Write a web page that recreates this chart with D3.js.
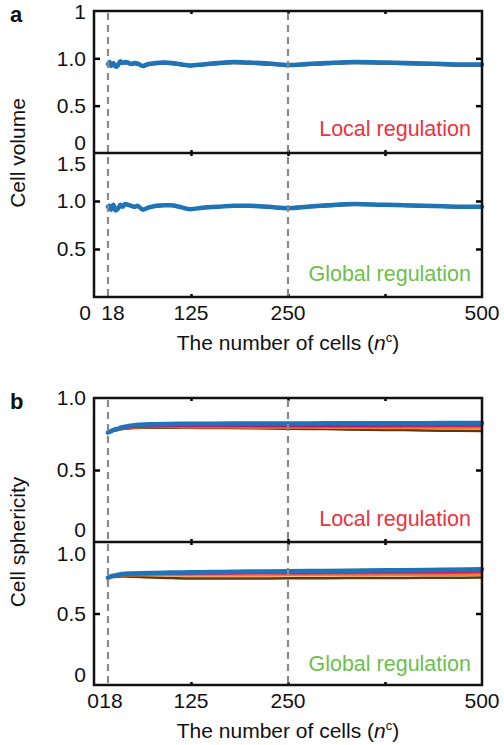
<!DOCTYPE html>
<html lang="en">
<head>
    <meta charset="UTF-8">
    <title>Cell volume and sphericity</title>
    <script src="https://d3js.org/d3.v7.min.js"></script>
    <style>
        body {
            margin: 0;
            padding: 0;
            background: #fff;
            font-family: "Liberation Sans", Arial, sans-serif;
        }
        .tick-label {
            font-size: 21px;
            fill: #111;
        }
        .axis-title {
            font-size: 21px;
            fill: #111;
        }
        .panel-letter {
            font-size: 22px;
            font-weight: bold;
            fill: #111;
        }
        .region-label {
            font-size: 21.5px;
        }
    </style>
</head>
<body>
    <svg width="504" height="745"></svg>
    <script>
        // series names, drawn bottom to top
        const seriesNames = ["brown", "orange", "red", "magenta", "blue"];
        const seriesColors = ["#5e3811", "#f2812c", "#e8325a", "#b5177f", "#1f73b7"];
        const seriesWidths = [2.5, 2.5, 2.5, 2.5, 4.5];

        const xTicks = [18, 125, 250, 375, 500];
        const xTickLabels = ["18", "125", "250", "", "500"];
        const markers = [18, 250];

        // panel a: cell volume
        const nA = [18, 20, 22, 25, 28, 31, 34, 37, 40, 44, 48, 52, 56, 63, 70, 80, 90, 100, 110, 124,
            140, 160, 180, 200, 225, 250, 275, 300, 336, 375, 400, 425, 450, 475, 500];

        const volLocalBrown = [0.94, 0.95, 0.92, 0.94, 0.92, 0.93, 0.96, 0.95, 0.95, 0.945, 0.935, 0.94, 0.935, 0.915, 0.93, 0.94, 0.945, 0.94, 0.93, 0.92,
            0.93, 0.94, 0.95, 0.945, 0.935, 0.925, 0.93, 0.94, 0.95, 0.945, 0.94, 0.935, 0.93, 0.925, 0.925];
        const volLocalOrange = [0.94, 0.95, 0.92, 0.94, 0.92, 0.93, 0.96, 0.95, 0.95, 0.95, 0.935, 0.945, 0.94, 0.915, 0.935, 0.945, 0.95, 0.945, 0.935, 0.92,
            0.93, 0.945, 0.955, 0.95, 0.94, 0.925, 0.935, 0.945, 0.955, 0.95, 0.945, 0.94, 0.935, 0.93, 0.93];
        const volLocalRed = [0.94, 0.95, 0.93, 0.94, 0.92, 0.93, 0.96, 0.95, 0.955, 0.95, 0.94, 0.945, 0.94, 0.92, 0.935, 0.945, 0.95, 0.945, 0.935, 0.92,
            0.93, 0.945, 0.955, 0.95, 0.94, 0.925, 0.935, 0.945, 0.955, 0.95, 0.945, 0.94, 0.935, 0.93, 0.93];
        const volLocalMagenta = [0.93, 0.95, 0.93, 0.94, 0.92, 0.92, 0.96, 0.96, 0.95, 0.95, 0.935, 0.945, 0.94, 0.915, 0.935, 0.955, 0.96, 0.95, 0.935, 0.92,
            0.935, 0.955, 0.965, 0.955, 0.94, 0.925, 0.945, 0.955, 0.965, 0.955, 0.945, 0.94, 0.935, 0.93, 0.93];
        const volLocalBlue = [0.94, 0.96, 0.92, 0.95, 0.91, 0.93, 0.97, 0.95, 0.96, 0.955, 0.94, 0.95, 0.945, 0.92, 0.94, 0.95, 0.955, 0.95, 0.94, 0.925,
            0.935, 0.95, 0.96, 0.955, 0.945, 0.93, 0.94, 0.95, 0.96, 0.955, 0.95, 0.945, 0.94, 0.935, 0.935];

        const volGlobalBrown = [0.94, 0.95, 0.92, 0.95, 0.91, 0.92, 0.95, 0.94, 0.96, 0.955, 0.945, 0.935, 0.94, 0.915, 0.925, 0.94, 0.95, 0.95, 0.935, 0.915,
            0.925, 0.935, 0.945, 0.945, 0.935, 0.92, 0.935, 0.945, 0.96, 0.955, 0.95, 0.945, 0.94, 0.935, 0.935];
        const volGlobalOrange = [0.94, 0.95, 0.92, 0.95, 0.91, 0.92, 0.955, 0.94, 0.965, 0.955, 0.945, 0.935, 0.945, 0.915, 0.93, 0.945, 0.95, 0.95, 0.935, 0.915,
            0.93, 0.94, 0.945, 0.945, 0.935, 0.92, 0.935, 0.95, 0.965, 0.955, 0.95, 0.945, 0.94, 0.935, 0.935];
        const volGlobalRed = [0.94, 0.95, 0.91, 0.955, 0.905, 0.92, 0.955, 0.94, 0.965, 0.96, 0.945, 0.94, 0.945, 0.91, 0.93, 0.945, 0.955, 0.95, 0.94, 0.915,
            0.93, 0.94, 0.95, 0.95, 0.94, 0.925, 0.94, 0.95, 0.965, 0.96, 0.95, 0.945, 0.94, 0.94, 0.935];
        const volGlobalMagenta = [0.93, 0.95, 0.91, 0.95, 0.905, 0.92, 0.955, 0.945, 0.965, 0.955, 0.95, 0.935, 0.945, 0.915, 0.935, 0.95, 0.955, 0.955, 0.94, 0.92,
            0.935, 0.945, 0.955, 0.95, 0.94, 0.925, 0.945, 0.955, 0.97, 0.96, 0.955, 0.945, 0.94, 0.94, 0.935];
        const volGlobalBlue = [0.94, 0.95, 0.91, 0.96, 0.90, 0.92, 0.96, 0.94, 0.97, 0.96, 0.95, 0.94, 0.95, 0.91, 0.93, 0.95, 0.955, 0.955, 0.94, 0.915,
            0.93, 0.94, 0.95, 0.95, 0.94, 0.925, 0.94, 0.955, 0.97, 0.96, 0.955, 0.95, 0.945, 0.94, 0.94];

        // panel b: cell sphericity
        const nB = [18, 22, 26, 30, 35, 40, 50, 60, 75, 100, 125, 150, 200, 250, 300, 350, 400, 450, 500];

        const sphLocalBrown = [0.76, 0.766, 0.772, 0.777, 0.783, 0.787, 0.791, 0.793, 0.794, 0.794, 0.793, 0.792, 0.79, 0.787, 0.784, 0.78, 0.777, 0.773, 0.77];
        const sphLocalOrange = [0.76, 0.767, 0.773, 0.778, 0.785, 0.79, 0.795, 0.797, 0.798, 0.798, 0.797, 0.797, 0.796, 0.795, 0.794, 0.793, 0.792, 0.791, 0.79];
        const sphLocalRed = [0.76, 0.768, 0.775, 0.78, 0.787, 0.792, 0.797, 0.80, 0.802, 0.803, 0.803, 0.803, 0.803, 0.802, 0.802, 0.802, 0.803, 0.803, 0.804];
        const sphLocalMagenta = [0.76, 0.77, 0.777, 0.783, 0.79, 0.795, 0.80, 0.804, 0.806, 0.807, 0.807, 0.807, 0.807, 0.807, 0.808, 0.808, 0.809, 0.81, 0.81];
        const sphLocalBlue = [0.76, 0.77, 0.78, 0.785, 0.795, 0.80, 0.81, 0.815, 0.818, 0.82, 0.822, 0.822, 0.823, 0.823, 0.824, 0.825, 0.825, 0.826, 0.826];

        const sphGlobalBrown = [0.75, 0.753, 0.755, 0.757, 0.758, 0.758, 0.757, 0.755, 0.752, 0.748, 0.745, 0.745, 0.745, 0.746, 0.747, 0.748, 0.749, 0.75, 0.751];
        const sphGlobalOrange = [0.75, 0.755, 0.759, 0.762, 0.765, 0.767, 0.768, 0.768, 0.768, 0.767, 0.766, 0.766, 0.766, 0.767, 0.768, 0.768, 0.769, 0.77, 0.771];
        const sphGlobalRed = [0.75, 0.757, 0.762, 0.765, 0.769, 0.772, 0.774, 0.775, 0.776, 0.777, 0.777, 0.778, 0.779, 0.78, 0.781, 0.782, 0.783, 0.784, 0.786];
        const sphGlobalMagenta = [0.75, 0.758, 0.763, 0.767, 0.771, 0.774, 0.776, 0.778, 0.78, 0.781, 0.782, 0.783, 0.785, 0.786, 0.788, 0.79, 0.792, 0.794, 0.797];
        const sphGlobalBlue = [0.75, 0.76, 0.765, 0.77, 0.775, 0.778, 0.78, 0.782, 0.784, 0.786, 0.788, 0.79, 0.793, 0.795, 0.798, 0.80, 0.803, 0.806, 0.81];

        const svg = d3.select("svg");

        const x = d3.scaleLinear().domain([0, 500]).range([94, 482]);

        const line = (ns, y) => d3.line()
            .x((d, i) => x(ns[i]))
            .y(d => y(d))
            .curve(d3.curveMonotoneX);

        // one sub plot: series, inward ticks, y labels, region label
        function subplot(opts) {
            const y = d3.scaleLinear().domain(opts.domain).range([opts.bottom, opts.top]);
            const g = svg.append("g");

            opts.series.forEach((vals, i) => {
                g.append("path")
                    .attr("d", line(opts.n, y)(vals))
                    .attr("fill", "none")
                    .attr("stroke", seriesColors[i])
                    .attr("stroke-width", seriesWidths[i])
                    .attr("stroke-linejoin", "round")
                    .attr("stroke-linecap", "round");
            });

            // inward ticks left and right
            g.append("g")
                .attr("transform", `translate(${x(0)},0)`)
                .call(d3.axisRight(y).tickValues(opts.yTicks).tickSize(6).tickFormat(""))
                .call(a => a.select(".domain").remove())
                .selectAll("line").attr("stroke", "#000").attr("stroke-width", 2.5);
            g.append("g")
                .attr("transform", `translate(${x(500)},0)`)
                .call(d3.axisLeft(y).tickValues(opts.yTicks).tickSize(6).tickFormat(""))
                .call(a => a.select(".domain").remove())
                .selectAll("line").attr("stroke", "#000").attr("stroke-width", 2.5);

            // inward x ticks top and bottom
            g.append("g")
                .attr("transform", `translate(0,${opts.bottom})`)
                .call(d3.axisTop(x).tickValues(xTicks.slice(1, 4)).tickSize(3).tickFormat(""))
                .call(a => a.select(".domain").remove())
                .selectAll("line").attr("stroke", "#000").attr("stroke-width", 2.5);
            g.append("g")
                .attr("transform", `translate(0,${opts.top})`)
                .call(d3.axisBottom(x).tickValues(xTicks.slice(1, 4)).tickSize(3).tickFormat(""))
                .call(a => a.select(".domain").remove())
                .selectAll("line").attr("stroke", "#000").attr("stroke-width", 2.5);

            // y tick labels, edge ones nudged inside
            opts.yLabels.forEach(l => {
                g.append("text")
                    .attr("class", "tick-label")
                    .attr("x", x(0) - 8)
                    .attr("y", y(l.v) + l.dy)
                    .attr("dy", "0.35em")
                    .attr("text-anchor", "end")
                    .text(l.t);
            });

            g.append("text")
                .attr("class", "region-label")
                .attr("x", 471)
                .attr("y", opts.labelY)
                .attr("dy", "0.35em")
                .attr("text-anchor", "end")
                .attr("fill", opts.labelColor)
                .text(opts.label);

            return y;
        }

        function panel(p) {
            subplot({
                n: p.n, domain: p.domain, top: p.top, bottom: p.mid, series: p.upperSeries,
                yTicks: p.yTicks, yLabels: p.upperLabels,
                label: "Local regulation", labelColor: "#ea3340", labelY: p.localY
            });
            subplot({
                n: p.n, domain: p.domain, top: p.mid, bottom: p.bottom, series: p.lowerSeries,
                yTicks: p.yTicks, yLabels: p.lowerLabels,
                label: "Global regulation", labelColor: "#6cbf4c", labelY: p.globalY
            });

            // dashed markers
            svg.append("g").selectAll("line")
                .data(markers)
                .enter().append("line")
                .attr("x1", d => x(d)).attr("x2", d => x(d))
                .attr("y1", p.top + 2).attr("y2", p.bottom)
                .attr("stroke", "#8a8a8a")
                .attr("stroke-width", 2.2)
                .attr("stroke-dasharray", "7,5");

            // frame and divider
            svg.append("rect")
                .attr("x", x(0)).attr("y", p.top)
                .attr("width", x(500) - x(0)).attr("height", p.bottom - p.top)
                .attr("fill", "none").attr("stroke", "#111").attr("stroke-width", 2.5);
            svg.append("line")
                .attr("x1", x(0)).attr("x2", x(500))
                .attr("y1", p.mid).attr("y2", p.mid)
                .attr("stroke", "#111").attr("stroke-width", 2.5);

            // x tick labels
            svg.append("g").selectAll("text")
                .data(xTicks)
                .enter().append("text")
                .attr("class", "tick-label")
                .attr("x", d => x(d) + (d === 18 ? p.offset18 : 0))
                .attr("y", p.bottom + 23)
                .attr("text-anchor", "middle")
                .text((d, i) => xTickLabels[i]);
            svg.append("text")
                .attr("class", "tick-label")
                .attr("x", x(0) + p.offset0)
                .attr("y", p.bottom + 23)
                .attr("text-anchor", "middle")
                .text("0");

            // x title
            const t = svg.append("text")
                .attr("class", "axis-title")
                .attr("x", 288)
                .attr("y", p.bottom + 53)
                .attr("text-anchor", "middle");
            t.append("tspan").text("The number of cells (");
            t.append("tspan").attr("font-style", "italic").text("n");
            t.append("tspan").attr("font-size", "13px").attr("dy", -8).text("c");
            t.append("tspan").attr("dy", 8).text(")");

            // y title
            svg.append("text")
                .attr("class", "axis-title")
                .attr("transform", `translate(25,${p.mid}) rotate(-90)`)
                .attr("text-anchor", "middle")
                .text(p.yTitle);

            svg.append("text")
                .attr("class", "panel-letter")
                .attr("x", 10)
                .attr("y", p.top + 11)
                .text(p.letter);
        }

        panel({
            letter: "a", yTitle: "Cell volume",
            n: nA, domain: [0, 1.5], top: 11, mid: 153, bottom: 297,
            yTicks: [0.5, 1.0],
            upperLabels: [{ v: 1.5, t: "1", dy: 1 }, { v: 1.0, t: "1.0", dy: 0 }, { v: 0.5, t: "0.5", dy: 0 }, { v: 0, t: "0", dy: -10 }],
            lowerLabels: [{ v: 1.5, t: "1.5", dy: 11 }, { v: 1.0, t: "1.0", dy: 0 }, { v: 0.5, t: "0.5", dy: 0 }],
            upperSeries: [volLocalBrown, volLocalOrange, volLocalRed, volLocalMagenta, volLocalBlue],
            lowerSeries: [volGlobalBrown, volGlobalOrange, volGlobalRed, volGlobalMagenta, volGlobalBlue],
            localY: 128, globalY: 273, offset0: -9, offset18: 5
        });

        panel({
            letter: "b", yTitle: "Cell sphericity",
            n: nB, domain: [0, 1.0], top: 398, mid: 542, bottom: 685,
            yTicks: [0.5],
            upperLabels: [{ v: 1.0, t: "1.0", dy: 0 }, { v: 0.5, t: "0.5", dy: 0 }, { v: 0, t: "0", dy: -12 }],
            lowerLabels: [{ v: 1.0, t: "1.0", dy: 12 }, { v: 0.5, t: "0.5", dy: 0 }, { v: 0, t: "0", dy: -10 }],
            upperSeries: [sphLocalBrown, sphLocalOrange, sphLocalRed, sphLocalMagenta, sphLocalBlue],
            lowerSeries: [sphGlobalBrown, sphGlobalOrange, sphGlobalRed, sphGlobalMagenta, sphGlobalBlue],
            localY: 518, globalY: 663, offset0: -1, offset18: 3
        });
    </script>
</body>
</html>
